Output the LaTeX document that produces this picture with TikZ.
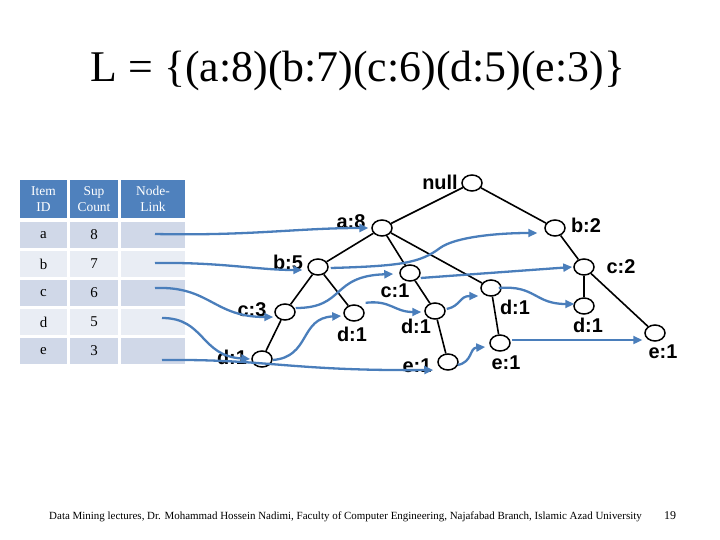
\documentclass[tikz,border=0pt]{standalone}
\usepackage{fontspec}
\setmainfont{Liberation Serif}
\newfontfamily\arialf{Liberation Sans}
\usetikzlibrary{arrows.meta,shapes.geometric}
\definecolor{hdr}{HTML}{4F81BD}
\definecolor{rowA}{HTML}{D0D8E8}
\definecolor{rowB}{HTML}{E9EDF4}
\definecolor{lnk}{HTML}{4A7EBB}
\begin{document}
\begin{tikzpicture}[x=1bp,y=-1bp,
  cell/.style={minimum height=26bp, inner sep=0pt, font=\fontsize{15}{17}\selectfont},
  colA/.style={minimum width=47bp},
  colB/.style={minimum width=48bp},
  colC/.style={minimum width=64bp},
  head/.style={fill=hdr, text=white, minimum height=38bp, inner sep=0pt, align=center, font=\fontsize{13.5}{16}\selectfont},
  oddrow/.style={cell, fill=rowA},
  evenrow/.style={cell, fill=rowB},
  tn/.style={ellipse, draw=black, fill=white, line width=1.5bp, minimum width=20bp, minimum height=16bp, inner sep=0pt},
  lbl/.style={font=\arialf\bfseries\fontsize{20}{22}\selectfont, inner sep=0pt},
  tedge/.style={line width=1.6bp, draw=black},
  link/.style={draw=lnk, line width=2.3bp, -{Triangle[length=9bp,width=8bp]}},
]
\useasboundingbox (0,0) rectangle (720,540);

% title
\node[anchor=base, inner sep=0pt, font=\fontsize{44}{48}\selectfont] (title) at (358,82) {L = \{(a:8)(b:7)(c:6)(d:5)(e:3)\}};

% table
\node[head, colA] (hid) at (43.5,199) {Item\\ID};
\node[head, colB] (hsup) at (94,199) {Sup\\Count};
\node[head, colC] (hlink) at (153,199) {Node-\\Link};

\node[oddrow, colA] (ia) at (43.5,235) {a};
\node[oddrow, colB] (sa) at (94,235) {8};
\node[oddrow, colC] (ta) at (153,235) {};
\node[evenrow, colA] (ib) at (43.5,264) {b};
\node[evenrow, colB] (sb) at (94,264) {7};
\node[evenrow, colC] (tb) at (153,264) {};
\node[oddrow, colA] (ic) at (43.5,293) {c};
\node[oddrow, colB] (sc) at (94,293) {6};
\node[oddrow, colC] (tc) at (153,293) {};
\node[evenrow, colA] (id) at (43.5,322) {d};
\node[evenrow, colB] (sd) at (94,322) {5};
\node[evenrow, colC] (td) at (153,322) {};
\node[oddrow, colA] (ie) at (43.5,351) {e};
\node[oddrow, colB] (se) at (94,351) {3};
\node[oddrow, colC] (te) at (153,351) {};

% tree nodes
\node[tn] (null) at (472,183) {};
\node[tn] (a8) at (382,228) {};
\node[tn] (b2) at (555,228) {};
\node[tn] (b5) at (318,267) {};
\node[tn] (c1) at (410,273) {};
\node[tn] (c2) at (584,267) {};
\node[tn] (c3) at (285,312) {};
\node[tn] (d1b) at (354,313) {};
\node[tn] (d1c) at (435,311) {};
\node[tn] (d1a) at (491,288) {};
\node[tn] (d1e) at (584,306) {};
\node[tn] (d1f) at (262,359) {};
\node[tn] (e1a) at (448,362) {};
\node[tn] (e1b) at (500,343) {};
\node[tn] (e1c) at (655,333) {};

% tree edges
\draw[tedge] (null) -- (a8);
\draw[tedge] (null) -- (b2);
\draw[tedge] (a8) -- (b5);
\draw[tedge] (a8) -- (c1);
\draw[tedge] (a8) -- (d1a);
\draw[tedge] (b5) -- (c3);
\draw[tedge] (b5) -- (d1b);
\draw[tedge] (c3) -- (d1f);
\draw[tedge] (c1) -- (d1c);
\draw[tedge] (d1c) -- (e1a);
\draw[tedge] (d1a) -- (e1b);
\draw[tedge] (b2) -- (c2);
\draw[tedge] (c2) -- (d1e);
\draw[tedge] (c2) -- (e1c);

% labels
\node[lbl] (lnull) at (440,182) {null};
\node[lbl] (la8) at (351,222) {a:8};
\node[lbl] (lb2) at (586,225) {b:2};
\node[lbl] (lb5) at (288,262) {b:5};
\node[lbl] (lc1) at (395,291) {c:1};
\node[lbl] (lc2) at (621,267) {c:2};
\node[lbl] (lc3) at (252,310) {c:3};
\node[lbl] (ld1b) at (352,334) {d:1};
\node[lbl] (ld1c) at (416,326) {d:1};
\node[lbl] (ld1a) at (515,307) {d:1};
\node[lbl] (ld1e) at (588,325) {d:1};
\node[lbl] (ld1f) at (232,357) {d:1};
\node[lbl] (le1a) at (417,366) {e:1};
\node[lbl] (le1b) at (506,363) {e:1};
\node[lbl] (le1c) at (663,352) {e:1};

% node-links
\draw[link] ([shift={(2,-1)}]ta.center) .. controls +(95,2) and +(-70,0) .. ([xshift=-3]a8.west);
\draw[link] ([shift={(2,-1)}]tb.center) .. controls +(65,-1) and +(-45,0) .. ([shift={(-5,3)}]b5.west);
\draw[link] ([shift={(2,-5)}]tc.center) .. controls +(55,-2) and +(-60,0) .. ([shift={(-1,5)}]c3.west);
\draw[link] ([shift={(9,-4)}]td.center) .. controls +(43,0) and +(-50,-3) .. ([xshift=-1]d1f.west);
\draw[link] ([shift={(9,9)}]te.center) .. controls +(108,-1) and +(-144,1) .. ([shift={(-4,8)}]e1a.west);

\draw[link] ([shift={(2,1)}]b5.east) .. controls +(70,-2) and +(-20,15) .. (440,248) .. controls +(15,-11) and +(-40,0) .. ([shift={(-7,5)}]b2.west);
\draw[link] ([yshift=4]c3.east) .. controls +(50,0) and +(-63,2) .. ([shift={(-6,1)}]c1.west);
\draw[link] ([yshift=-5]c1.east) -- ([xshift=-1]c2.west);

\draw[link] ([yshift=-1]d1f.east) .. controls +(38,-3) and +(-42,2) .. ([shift={(-2,3)}]d1b.west);
\draw[link] ([shift={(4,-4)}]d1b.north east) .. controls +(25,-3) and +(-27,0) .. ([shift={(-3,1)}]d1c.west);
\draw[link] ([shift={(1,-2)}]d1c.east) .. controls +(14,-3) and +(-19,0) .. ([shift={(-2,8)}]d1a.west);
\draw[link] ([xshift=-3]d1a.east) .. controls +(37,-3) and +(-40,0) .. ([shift={(1,-2)}]d1e.west);

\draw[link] ([shift={(-1,3)}]e1a.east) .. controls +(15,-3) and +(-16,1) .. ([shift={(-4,4)}]e1b.west);
\draw[link] ([shift={(1,-3)}]e1b.east) -- ([shift={(-2,7)}]e1c.west);

% footer
\node[anchor=base, inner sep=0pt, font=\fontsize{11}{13}\selectfont] (foot) at (345.5,519) {Data Mining lectures, Dr. Mohammad Hossein Nadimi, Faculty of Computer Engineering, Najafabad Branch, Islamic Azad University};
\node[anchor=base, inner sep=0pt, font=\fontsize{12}{14}\selectfont] (pg) at (670,519) {19};
\end{tikzpicture}
\end{document}
